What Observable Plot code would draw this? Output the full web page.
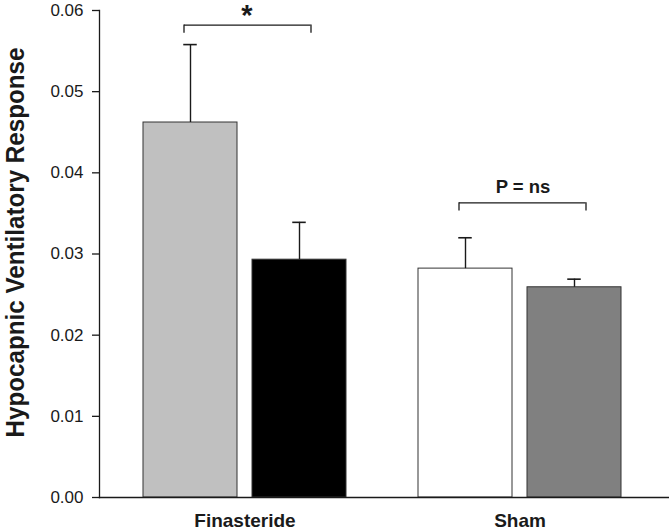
<!DOCTYPE html>
<html><head>
<meta charset="utf-8">
<script src="https://cdn.jsdelivr.net/npm/d3@7"></script>
<script src="https://cdn.jsdelivr.net/npm/@observablehq/plot@0.6"></script>
<style>body{margin:0;background:#fff}</style>
</head><body><div id="c"></div>
<script>
// ---- data ----
const groups = ["Finasteride", "Sham"];
const firstMeans = [0.0462, 0.0282];   // light gray / white bars
const firstErrs  = [0.0096, 0.0038];
const secondMeans = [0.0293, 0.0259];  // black / dark gray bars
const secondErrs  = [0.0046, 0.0010];
const yTicks = [0, 0.01, 0.02, 0.03, 0.04, 0.05, 0.06];
const yTitle = "Hypocapnic Ventilatory Response";
const bracketGroups = ["Finasteride", "Sham"];
const bracketLevels = [0.0582, 0.0363];
const bracketLabels = ["*", "P = ns"];

// ---- styles ----
const firstColors = ["#c0c0c0", "#ffffff"];
const secondColors = ["#000000", "#808080"];
const OFF = 54.5, INSET = 109, CAP = 94.75, TIP = 0.001;

const first = groups.map((g, i) => ({group: g, value: firstMeans[i], err: firstErrs[i], color: firstColors[i]}));
const second = groups.map((g, i) => ({group: g, value: secondMeans[i], err: secondErrs[i], color: secondColors[i]}));
const brackets = bracketGroups.map((g, i) => ({group: g, level: bracketLevels[i], label: bracketLabels[i]}));

const ink = "#1a1a1a";
const errMarks = (data, dx) => [
  Plot.ruleX(data, {x: "group", y1: "value", y2: d => d.value + d.err, dx, stroke: ink, strokeWidth: 1.4}),
  Plot.tickY(data, {x: "group", y: d => d.value + d.err, dx, insetLeft: CAP, insetRight: CAP, stroke: ink, strokeWidth: 1.6})
];

const chart = Plot.plot({
  width: 669, height: 531,
  marginLeft: 99, marginRight: 1, marginTop: 10, marginBottom: 34,
  style: {fontFamily: "'Liberation Sans', Arial, sans-serif", color: ink, background: "#fff", overflow: "visible"},
  x: {domain: groups, paddingInner: 0.2613, paddingOuter: 0.1633, align: 0.489, axis: null},
  y: {domain: [0, 0.06], axis: null},
  marks: [
    Plot.barY(first, {x: "group", y: "value", fill: "color", insetRight: INSET, stroke: "#333", strokeWidth: 1}),
    Plot.barY(second, {x: "group", y: "value", fill: "color", insetLeft: INSET, stroke: "#333", strokeWidth: 1}),
    ...errMarks(first, -OFF),
    ...errMarks(second, OFF),
    Plot.frame({anchor: "left", stroke: ink, strokeWidth: 1.3}),
    Plot.frame({anchor: "bottom", stroke: ink, strokeWidth: 1.3}),
    Plot.axisY({ticks: yTicks, tickFormat: d3.format(".2f"), tickSize: 7, tickPadding: 9, fontSize: 17, label: null, strokeWidth: 1.3}),
    Plot.axisX({tickSize: 0, tickPadding: 16, fontSize: 19, fontWeight: "bold", label: null}),
    Plot.text([yTitle], {frameAnchor: "left", textAnchor: "middle", text: d => d, rotate: -90, dx: -84, dy: -11.5,
      fontSize: 25.5, fontWeight: "bold"}),
    // significance brackets
    Plot.tickY(brackets, {x: "group", y: "level", insetLeft: 41, insetRight: 35.5, stroke: ink, strokeWidth: 1.3}),
    Plot.ruleX(brackets, {x: "group", y1: "level", y2: d => d.level - TIP, dx: -61, stroke: ink, strokeWidth: 1.3}),
    Plot.ruleX(brackets, {x: "group", y1: "level", y2: d => d.level - TIP, dx: 66, stroke: ink, strokeWidth: 1.3}),
    Plot.text(brackets.filter(d => d.label === "*"), {x: "group", y: "level", text: "label", lineAnchor: "bottom", dx: 2, dy: 0, fontSize: 29, fontWeight: "bold"}),
    Plot.text(brackets.filter(d => d.label !== "*"), {x: "group", y: "level", text: "label", lineAnchor: "bottom", dx: 3, dy: -10, fontSize: 18.5, fontWeight: "bold"})
  ]
});
// condense the axis title to the reference's narrow lettering
d3.select(chart).selectAll("text")
  .filter(function () { return this.textContent === yTitle; })
  .attr("textLength", 390).attr("lengthAdjust", "spacingAndGlyphs");
document.getElementById("c").append(chart);
</script></body></html>
